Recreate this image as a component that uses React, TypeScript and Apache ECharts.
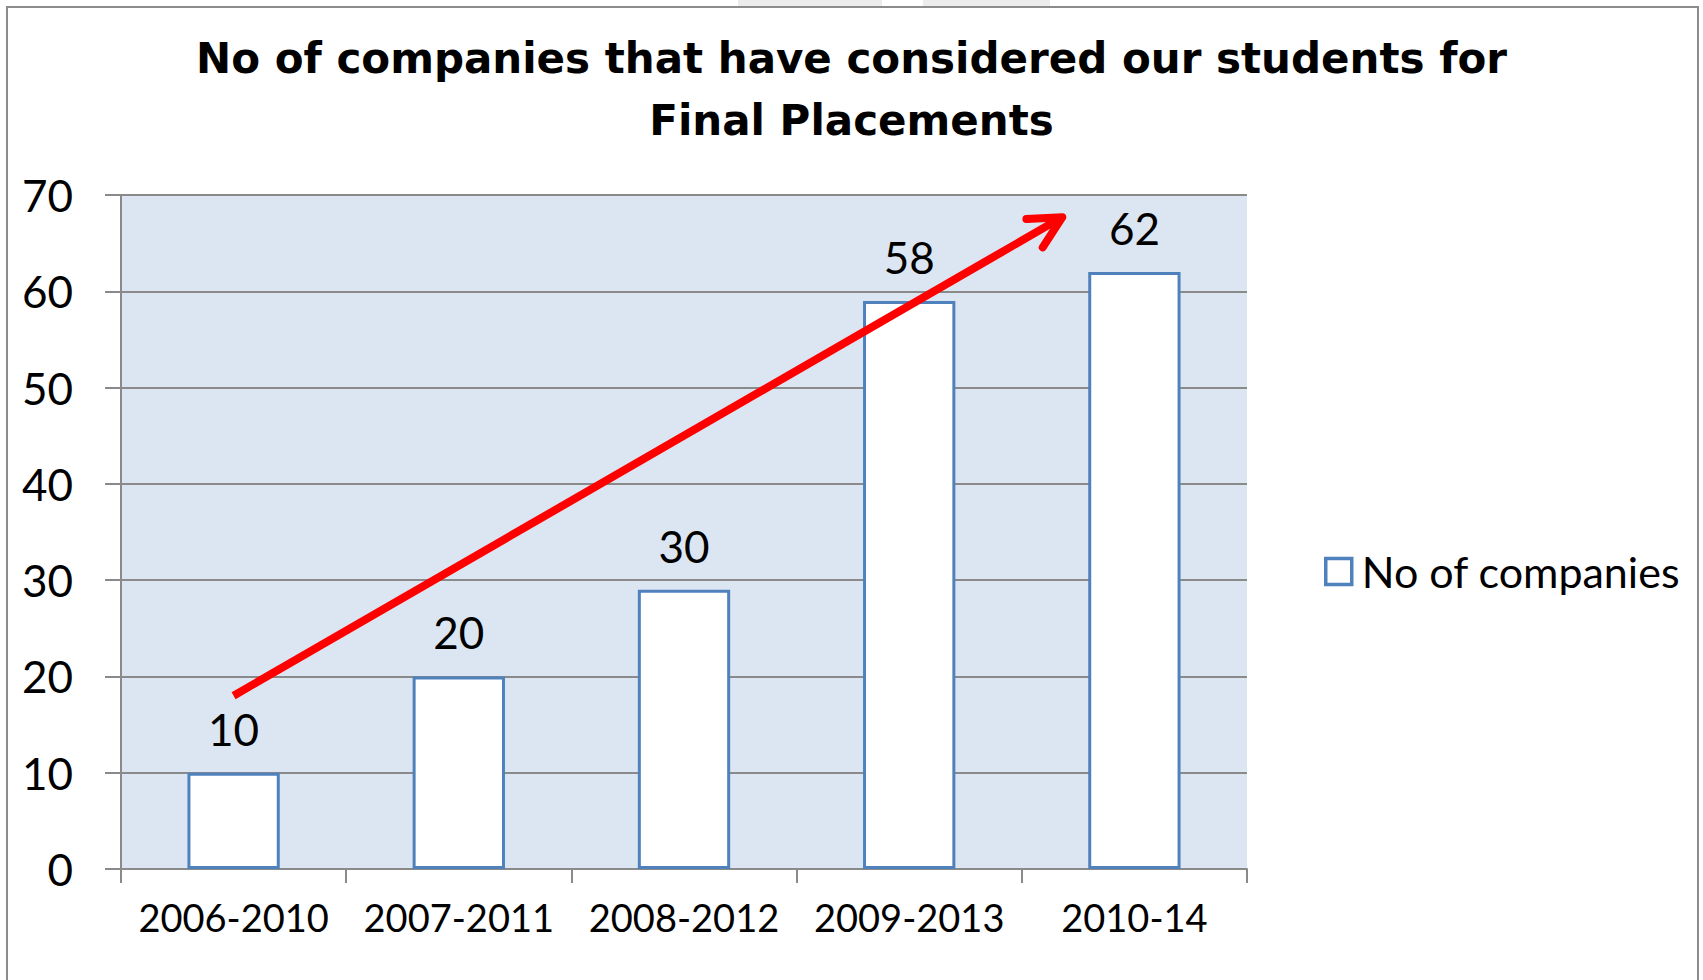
import React, { useEffect, useRef } from "react";
import * as echarts from "echarts";

const titleLines = ["No of companies that have considered our students for", "Final Placements"];
const categories = ["2006-2010", "2007-2011", "2008-2012", "2009-2013", "2010-14"];
const values = [10, 20, 29, 59, 62];
const valueLabels = ["10", "20", "30", "58", "62"];
const seriesName = "No of companies";
const yMin = 0;
const yMax = 70;
const yInterval = 10;
// arrow annotation in data space: [category index position, value]
const arrowFrom = [0, 18];
const arrowTo = [3.68, 67.7];

const FONT = "Lato, 'Open Sans', sans-serif";
const TITLE_FONT = "'DejaVu Sans', Lato, sans-serif";
const GRID = { left: 121, right: 456, top: 195, bottom: 111 };

export default function App() {
  const ref = useRef<HTMLDivElement>(null);
  useEffect(() => {
    if (!ref.current) return;
    const chart = echarts.init(ref.current, null, { renderer: "svg" });
    const gray = "#8a8a8a";
    const option: any = {
      animation: false,
      backgroundColor: "#ffffff",
      title: {
        text: titleLines.join("\n"),
        left: "center",
        top: 22,
        textStyle: { fontFamily: TITLE_FONT, fontWeight: "bold", fontSize: 42, color: "#000", lineHeight: 62 },
      },
      legend: {
        data: [seriesName],
        left: 1319,
        top: 545,
        itemWidth: 26,
        itemHeight: 26,
        icon: "rect",
        itemStyle: { color: "#ffffff", borderColor: "#4f81bd", borderWidth: 3.5 },
        textStyle: { fontFamily: FONT, fontSize: 43, color: "#000", padding: [0, 0, 0, 5] },
      },
      grid: {
        ...GRID,
        show: true,
        backgroundColor: "#dce6f2",
        borderWidth: 0,
      },
      xAxis: [
        {
          type: "category",
          data: categories,
          axisLine: { show: true, onZero: false, lineStyle: { color: gray, width: 2 } },
          axisTick: { show: true, length: 14, lineStyle: { color: gray, width: 2 } },
          axisLabel: { interval: 0, fontFamily: FONT, fontSize: 38, color: "#000", margin: 29 },
          splitLine: { show: false },
        },
        {
          type: "value",
          min: -0.5,
          max: 4.5,
          show: false,
          splitLine: { show: false },
          axisLine: { show: false },
          axisTick: { show: false },
          axisLabel: { show: false },
        },
      ],
      yAxis: {
        type: "value",
        min: yMin,
        max: yMax,
        interval: yInterval,
        axisLine: { show: true, onZero: false, lineStyle: { color: gray, width: 2 } },
        axisTick: { show: true, length: 16, lineStyle: { color: gray, width: 2 } },
        splitLine: { show: true, lineStyle: { color: gray, width: 2 } },
        axisLabel: { fontFamily: FONT, fontSize: 44, color: "#000", margin: 48, padding: [0, 0, 8, 0] },
      },
      series: [
        {
          name: seriesName,
          type: "bar",
          data: values,
          barWidth: "41%",
          itemStyle: { color: "#ffffff", borderColor: "#4f81bd", borderWidth: 3 },
          label: {
            show: true,
            position: "top",
            distance: 22,
            fontFamily: FONT,
            fontSize: 44,
            color: "#000",
            formatter: (p: any) => valueLabels[p.dataIndex],
          },
        },
      ],
    };
    chart.setOption(option);

    const p0 = chart.convertToPixel({ xAxisIndex: 1, yAxisIndex: 0 }, arrowFrom) as number[];
    const p1 = chart.convertToPixel({ xAxisIndex: 1, yAxisIndex: 0 }, arrowTo) as number[];
    const dx = p0[0] - p1[0];
    const dy = p0[1] - p1[1];
    const len = Math.hypot(dx, dy);
    const bx = dx / len;
    const by = dy / len;
    const armLen = 36;
    const ang = (27 * Math.PI) / 180;
    const rot = (a: number) => [bx * Math.cos(a) - by * Math.sin(a), bx * Math.sin(a) + by * Math.cos(a)];
    const r1 = rot(ang);
    const r2 = rot(-ang);
    const arm1 = [p1[0] + r1[0] * armLen, p1[1] + r1[1] * armLen];
    const arm2 = [p1[0] + r2[0] * armLen, p1[1] + r2[1] * armLen];

    chart.setOption({
      graphic: [
        { type: "rect", shape: { x: 738, y: 0, width: 144, height: 7 }, style: { fill: "#ececec" }, z: 1 },
        { type: "rect", shape: { x: 923, y: 0, width: 127, height: 7 }, style: { fill: "#ececec" }, z: 1 },
        {
          type: "rect",
          shape: { x: 7, y: 7, width: 1691, height: 990 },
          style: { fill: "none", stroke: "#8c8c8c", lineWidth: 2 },
          z: 1,
          silent: true,
        },
        {
          type: "line",
          shape: { x1: p0[0], y1: p0[1], x2: p1[0], y2: p1[1] },
          style: { stroke: "#ff0000", lineWidth: 8 },
          z: 100,
        },
        {
          type: "polyline",
          shape: { points: [arm1, p1, arm2] },
          style: { stroke: "#ff0000", lineWidth: 8, fill: "none", lineCap: "round", lineJoin: "round" },
          z: 100,
        },
      ],
    });
    return () => chart.dispose();
  }, []);
  return (
    <div
      ref={ref}
      style={{ position: "fixed", left: 0, top: 0, width: 1703, height: 980 }}
    />
  );
}
